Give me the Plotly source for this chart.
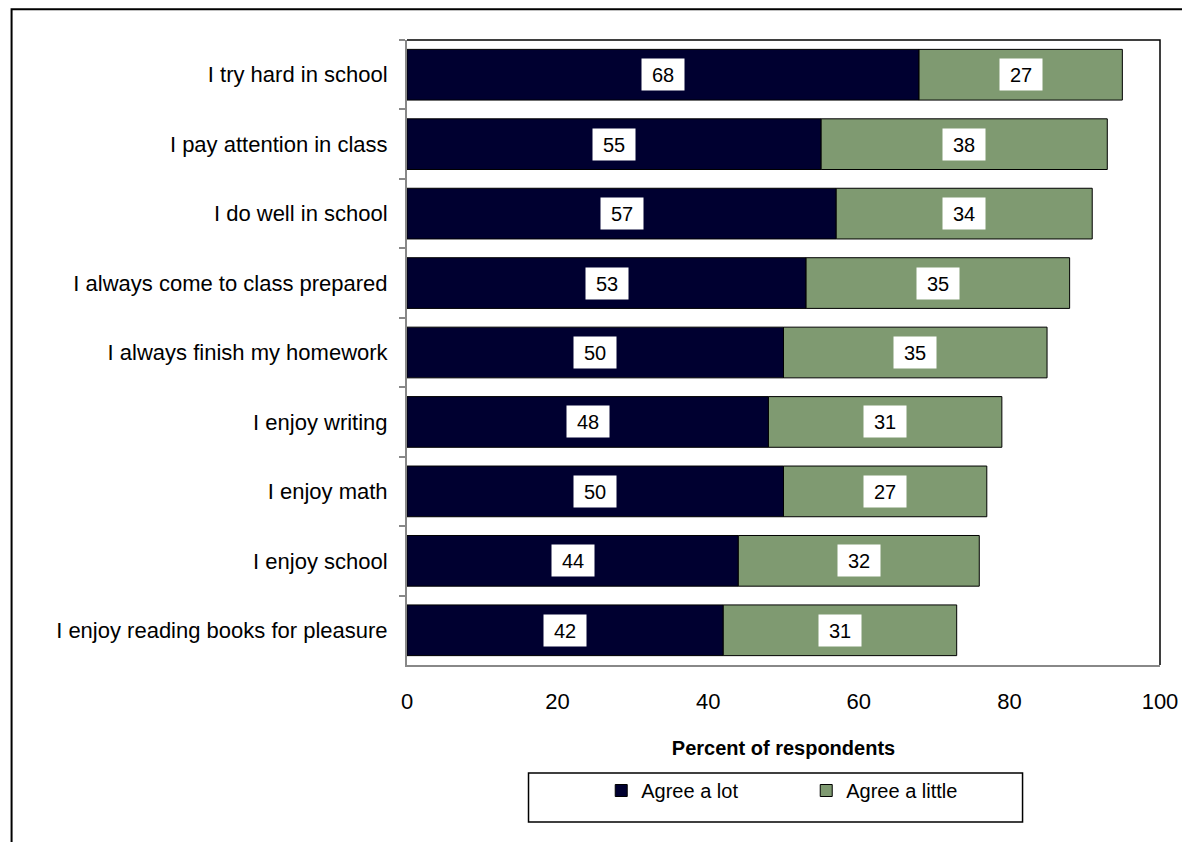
import plotly.graph_objects as go

categories = ["I try hard in school", "I pay attention in class", "I do well in school",
              "I always come to class prepared", "I always finish my homework",
              "I enjoy writing", "I enjoy math", "I enjoy school",
              "I enjoy reading books for pleasure"]
agree_lot = [68, 55, 57, 53, 50, 48, 50, 44, 42]
agree_little = [27, 38, 34, 35, 35, 31, 27, 32, 31]
x_ticks = [0, 20, 40, 60, 80, 100]

OFF = 8  # default page body margin
W, H = 1190 - OFF, 842 - OFF
# plot area in page pixels
L, R, T, B = 407, 1163, 40, 665
pw, ph = R - L, B - T

def px(x):
    return (x - L) / pw

def py(y):
    return (B - y) / ph

FONT = "Liberation Sans, Arial, sans-serif"
DARK = "#000030"
GREEN = "#7F9A71"

fig = go.Figure()
fig.add_trace(go.Bar(y=categories, x=agree_lot, orientation="h", name="Agree a lot",
                     marker=dict(color=DARK, line=dict(color="#000000", width=1)),
                     width=0.73))
fig.add_trace(go.Bar(y=categories, x=agree_little, base=agree_lot, orientation="h",
                     name="Agree a little",
                     marker=dict(color=GREEN, line=dict(color="#000000", width=1)),
                     width=0.73))

for c, a, b in zip(categories, agree_lot, agree_little):
    fig.add_annotation(x=a / 2, y=c, text=str(a), showarrow=False, bgcolor="white",
                       width=40, height=29, borderpad=1,
                       font=dict(size=20, color="black", family=FONT))
    fig.add_annotation(x=a + b / 2, y=c, text=str(b), showarrow=False, bgcolor="white",
                       width=40, height=29, borderpad=1,
                       font=dict(size=20, color="black", family=FONT))

shapes = [
    dict(type="path", xref="paper", yref="paper",
         path="M 0 1 L 1 1 L 1 0", line=dict(color="black", width=1.5)),
    dict(type="path", xref="paper", yref="paper",
         path=f"M {px(10)} {py(900)} L {px(10)} {py(9.2)} L {px(1250)} {py(9.2)}",
         line=dict(color="black", width=2)),
    dict(type="rect", xref="paper", yref="paper",
         x0=px(529), x1=px(1025), y0=py(822), y1=py(773),
         line=dict(color="black", width=1.5), fillcolor="rgba(0,0,0,0)"),
]

fig.update_layout(
    width=W, height=H,
    margin=dict(l=L - OFF, r=W - (R - OFF), t=T - OFF, b=H - (B - OFF), pad=0),
    paper_bgcolor="white", plot_bgcolor="white",
    barmode="overlay",
    font=dict(family=FONT, size=20, color="black"),
    showlegend=True,
    legend=dict(orientation="h", x=px(602), xanchor="left", y=py(771), yanchor="top",
                entrywidth=160, entrywidthmode="pixels",
                font=dict(size=20, family=FONT), bgcolor="rgba(0,0,0,0)",
                traceorder="normal"),
    shapes=shapes,
    xaxis=dict(range=[0, 100], tickvals=x_ticks, showgrid=False, zeroline=False,
               showline=True, linecolor="#888888", linewidth=2, ticks="",
               tickfont=dict(size=22), fixedrange=True, ticklabelstandoff=16,
               title=dict(text="<b>Percent of respondents</b>", font=dict(size=20), standoff=28)),
    yaxis=dict(autorange="reversed", showgrid=False, showline=True, linecolor="#888888",
               linewidth=2, ticks="outside", tickson="boundaries", ticklen=6,
               tickcolor="#888888", tickwidth=2, tickfont=dict(size=22),
               ticklabelstandoff=13),
)

fig.write_html("out.html")
